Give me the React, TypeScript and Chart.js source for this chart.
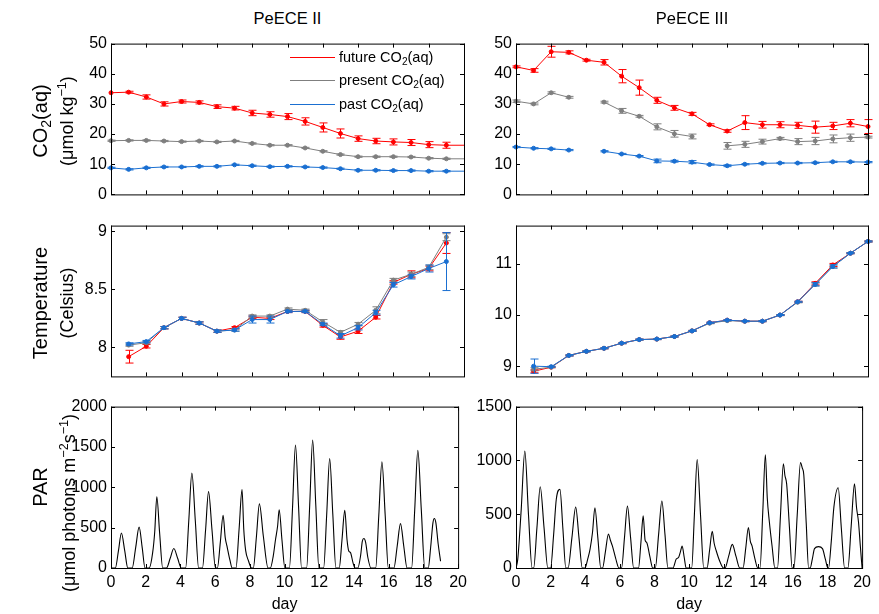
import React, { useEffect, useRef } from 'react';
import { Chart, registerables } from 'chart.js';

Chart.register(...registerables);

const FONT_FAMILY = '"Liberation Sans", Arial, Helvetica, sans-serif';
const RED = '#ff0000';
const GRAY = '#7f7f7f';
const BLUE = '#1a6fd1';

// ---------------- DATA ----------------
const dayTicks = [0, 2, 4, 6, 8, 10, 12, 14, 16, 18, 20];

// PeECE II — CO2(aq)
const co2DaysII = [0, 1, 2, 3, 4, 5, 6, 7, 8, 9, 10, 11, 12, 13, 14, 15, 16, 17, 18, 19, 20];
const futureCO2II = [33.7, 33.9, 32.3, 30.0, 30.8, 30.5, 29.1, 28.6, 27.0, 26.5, 25.8, 24.2, 22.2, 20.2, 18.5, 17.7, 17.4, 17.2, 16.5, 16.3, 16.3];
const futureCO2IIErr = [0, 0.3, 0.7, 0.7, 0.5, 0.5, 0.6, 0.6, 0.9, 0.9, 1.0, 1.2, 1.5, 1.5, 0.9, 0.9, 1.0, 1.0, 1.0, 1.0, 0];
const presentCO2II = [17.8, 17.9, 17.9, 17.7, 17.5, 17.7, 17.4, 17.7, 16.9, 16.3, 16.3, 15.4, 14.3, 13.2, 12.5, 12.5, 12.5, 12.4, 12.0, 11.8, 11.8];
const presentCO2IIErr = [0.2, 0.2, 0.2, 0.2, 0.2, 0.2, 0.2, 0.2, 0.2, 0.2, 0.2, 0.2, 0.2, 0.2, 0.2, 0.2, 0.2, 0.2, 0.2, 0.2, 0];
const pastCO2II = [8.8, 8.3, 8.8, 9.1, 9.1, 9.3, 9.3, 9.8, 9.5, 9.2, 9.3, 9.1, 8.9, 8.5, 8.0, 8.0, 7.9, 7.9, 7.7, 7.7, 7.7];
const pastCO2IIErr = [0.2, 0.2, 0.2, 0.2, 0.2, 0.2, 0.2, 0.2, 0.2, 0.2, 0.2, 0.2, 0.2, 0.2, 0.2, 0.2, 0.2, 0.2, 0.2, 0.2, 0];

// PeECE III — CO2(aq)
const co2DaysIII = [0, 1, 2, 3, 4, 5, 6, 7, 8, 9, 10, 11, 12, 13, 14, 15, 16, 17, 18, 19, 20];
const futureCO2III = [42.3, 41.1, 47.3, 47.1, 44.5, 43.8, 39.2, 35.4, 31.2, 28.7, 26.7, 23.1, 21.0, 23.8, 23.1, 23.1, 22.9, 22.3, 22.7, 23.6, 22.5];
const futureCO2IIIErr = [0.3, 0.6, 1.8, 0.5, 0.3, 0.9, 2.2, 2.5, 1.0, 0.8, 0.5, 0.3, 0.4, 2.3, 1.1, 1.0, 1.0, 2.0, 1.2, 1.2, 2.3];
const presentCO2III = [30.9, 30.0, 33.7, 32.2, null, 30.6, 27.7, 25.9, 22.4, 20.1, 19.2, null, 16.1, 16.6, 17.5, 18.5, 17.5, 17.7, 18.4, 18.8, 19.0];
const presentCO2IIIErr = [0.4, 0.3, 0.3, 0.3, 0, 0.3, 0.8, 0.3, 1.0, 1.1, 0.8, 0, 1.1, 1.0, 0.8, 0.4, 1.0, 1.2, 1.3, 1.2, 0.3];
const pastCO2III = [15.7, 15.3, 15.1, 14.7, null, 14.3, 13.4, 12.7, 11.1, 11.0, 10.7, 9.9, 9.5, 10.0, 10.3, 10.4, 10.4, 10.5, 10.8, 10.8, 10.7];
const pastCO2IIIErr = [0.2, 0.2, 0.2, 0.2, 0, 0.2, 0.2, 0.2, 0.6, 0.3, 0.5, 0.2, 0.3, 0.2, 0.2, 0.2, 0.2, 0.2, 0.2, 0.2, 0.2];

// PeECE II — Temperature
const tempDaysII = [1, 2, 3, 4, 5, 6, 7, 8, 9, 10, 11, 12, 13, 14, 15, 16, 17, 18, 19];
const futureTempII = [7.92, 8.01, 8.17, 8.25, 8.21, 8.14, 8.17, 8.26, 8.25, 8.31, 8.31, 8.19, 8.09, 8.14, 8.26, 8.56, 8.63, 8.68, 8.90];
const futureTempIIErr = [0.055, 0.015, 0.01, 0.01, 0.01, 0.01, 0.01, 0.01, 0.01, 0.01, 0.01, 0.015, 0.02, 0.02, 0.015, 0.015, 0.03, 0.02, 0.09];
const presentTempII = [8.02, 8.04, 8.17, 8.25, 8.21, 8.14, 8.15, 8.27, 8.27, 8.33, 8.32, 8.22, 8.13, 8.20, 8.32, 8.58, 8.63, 8.69, 8.95];
const presentTempIIErr = [0.01, 0.01, 0.01, 0.01, 0.01, 0.01, 0.01, 0.01, 0.01, 0.01, 0.01, 0.02, 0.015, 0.015, 0.03, 0.015, 0.02, 0.02, 0.03];
const pastTempII = [8.03, 8.05, 8.17, 8.25, 8.21, 8.14, 8.15, 8.24, 8.24, 8.31, 8.31, 8.20, 8.10, 8.17, 8.30, 8.54, 8.61, 8.68, 8.74];
const pastTempIIErr = [0.01, 0.01, 0.01, 0.01, 0.01, 0.01, 0.01, 0.03, 0.03, 0.01, 0.01, 0.01, 0.02, 0.02, 0.02, 0.02, 0.02, 0.03, 0.25];

// PeECE III — Temperature
const tempDaysIII = [1, 2, 3, 4, 5, 6, 7, 8, 9, 10, 11, 12, 13, 14, 15, 16, 17, 18, 19, 20];
const futureTempIII = [8.90, 8.98, 9.21, 9.29, 9.35, 9.45, 9.52, 9.53, 9.58, 9.69, 9.85, 9.90, 9.88, 9.88, 10.00, 10.26, 10.62, 10.98, 11.21, 11.44];
const futureTempIIIErr = [0.03, 0.01, 0.01, 0.01, 0.01, 0.01, 0.01, 0.01, 0.01, 0.01, 0.01, 0.01, 0.01, 0.01, 0.01, 0.01, 0.03, 0.03, 0.01, 0.01];
const presentTempIII = [8.94, 8.98, 9.21, 9.29, 9.35, 9.45, 9.52, 9.53, 9.58, 9.69, 9.84, 9.89, 9.88, 9.88, 10.00, 10.25, 10.60, 10.95, 11.21, 11.44];
const presentTempIIIErr = [0.03, 0.01, 0.01, 0.01, 0.01, 0.01, 0.01, 0.01, 0.01, 0.01, 0.01, 0.01, 0.01, 0.01, 0.01, 0.01, 0.03, 0.03, 0.01, 0.01];
const pastTempIII = [9.00, 8.99, 9.21, 9.29, 9.35, 9.45, 9.52, 9.53, 9.58, 9.69, 9.85, 9.90, 9.88, 9.88, 10.00, 10.26, 10.60, 10.95, 11.21, 11.44];
const pastTempIIIErr = [0.14, 0.01, 0.01, 0.01, 0.01, 0.01, 0.01, 0.01, 0.01, 0.01, 0.01, 0.01, 0.01, 0.01, 0.01, 0.01, 0.03, 0.03, 0.01, 0.01];

// PeECE II — PAR (day, µmol photons m-2 s-1)
const parDaysII = [
  0, 0.25, 0.43, 0.60, 0.79, 0.97,
  1.22, 1.42, 1.62, 1.80, 1.96,
  2.20, 2.40, 2.52, 2.64, 2.80, 2.98,
  3.20, 3.41, 3.62, 3.84, 4.05,
  4.30, 4.48, 4.66, 4.86, 5.05,
  5.27, 5.45, 5.62, 5.82, 6.02,
  6.13, 6.30, 6.46, 6.58, 6.70, 6.85, 6.98,
  7.20, 7.38, 7.55, 7.65, 7.76, 7.92, 8.10,
  8.20, 8.38, 8.55, 8.78, 9.05,
  9.18, 9.35, 9.48, 9.60, 9.69, 9.85, 10.02,
  10.28, 10.46, 10.63, 10.81, 10.98,
  11.27, 11.45, 11.62, 11.80, 11.98,
  12.25, 12.43, 12.60, 12.78, 12.96,
  13.15, 13.31, 13.47, 13.60, 13.70, 13.80, 13.95, 14.06,
  14.22, 14.38, 14.48, 14.57, 14.67, 14.80, 14.98,
  15.25, 15.43, 15.61, 15.80, 15.98,
  16.30, 16.49, 16.68, 16.87, 17.06,
  17.32, 17.50, 17.68, 17.88, 18.08,
  18.28, 18.42, 18.55, 18.63, 18.72, 18.85, 18.99,
];
const parII = [
  0, 0, 215, 433, 215, 0,
  0, 250, 506, 250, 0,
  0, 190, 450, 883, 440, 0,
  0, 120, 241, 120, 0,
  0, 580, 1176, 580, 0,
  0, 470, 947, 470, 0,
  0, 320, 654, 380, 253, 100, 0,
  0, 480, 971, 480, 215, 90, 0,
  0, 390, 795, 390, 0,
  0, 150, 353, 520, 722, 350, 0,
  0, 750, 1525, 750, 0,
  0, 780, 1585, 780, 0,
  0, 670, 1356, 670, 0,
  0, 350, 714, 350, 210, 190, 60, 0,
  0, 150, 330, 365, 320, 130, 0,
  0, 650, 1316, 650, 0,
  0, 270, 550, 270, 0,
  0, 720, 1457, 720, 0,
  0, 260, 560, 614, 560, 300, 84,
];

// PeECE III — PAR
const parDaysIII = [
  0, 0.10, 0.30, 0.51, 0.72, 0.93,
  1.02, 1.21, 1.40, 1.62, 1.84,
  2.00, 2.17, 2.33, 2.54, 2.71, 2.88,
  3.01, 3.23, 3.45, 3.64, 3.83,
  3.99, 4.14, 4.28, 4.42, 4.56, 4.73, 4.90,
  5.00, 5.17, 5.34, 5.45, 5.57, 5.76, 5.95,
  6.10, 6.27, 6.44, 6.62, 6.80,
  7.08, 7.22, 7.35, 7.46, 7.56, 7.73, 7.90,
  8.05, 8.24, 8.43, 8.61, 8.78,
  9.07, 9.26, 9.40, 9.50, 9.60, 9.72, 9.83,
  10.15, 10.31, 10.47, 10.66, 10.85,
  11.04, 11.19, 11.34, 11.45, 11.57, 11.78, 11.99,
  12.08, 12.29, 12.50, 12.71, 12.93,
  13.12, 13.28, 13.43, 13.54, 13.64, 13.80, 13.97,
  14.10, 14.26, 14.41, 14.52, 14.64, 14.80, 14.96,
  15.11, 15.28, 15.45, 15.54, 15.64, 15.80, 15.96,
  16.06, 16.25, 16.44, 16.54, 16.63, 16.77, 16.91,
  17.00, 17.12, 17.25, 17.48, 17.71, 17.88, 18.02,
  18.06, 18.22, 18.37, 18.62, 18.80, 18.99,
  19.18, 19.37, 19.56, 19.68, 19.79, 19.90, 20.0,
];
const parIII = [
  0, 80, 540, 1086, 500, 0,
  0, 375, 755, 375, 0,
  0, 300, 641, 731, 365, 0,
  0, 280, 566, 280, 0,
  0, 80, 175, 330, 560, 280, 0,
  0, 155, 316, 260, 205, 90, 0,
  0, 285, 575, 285, 0,
  0, 240, 484, 260, 235, 110, 0,
  0, 310, 623, 310, 0,
  0, 84, 100, 150, 205, 100, 0,
  0, 500, 1008, 500, 0,
  0, 170, 340, 230, 160, 60, 0,
  0, 110, 220, 110, 0,
  0, 190, 376, 250, 205, 90, 0,
  0, 520, 1053, 650, 430, 200, 0,
  0, 480, 969, 860, 782, 380, 0,
  0, 490, 981, 930, 867, 420, 0,
  0, 80, 180, 199, 180, 80, 0,
  0, 250, 566, 746, 370, 0,
  0, 390, 782, 560, 430, 200, 0,
];

const co2Ticks = [0, 10, 20, 30, 40, 50];
const tempTicksII = [8, 8.5, 9];
const tempTicksIII = [9, 10, 11];
const parTicksII = [0, 500, 1000, 1500, 2000];
const parTicksIII = [0, 500, 1000, 1500];

// ---------------- PLUGINS ----------------
const frameTicksPlugin = {
  id: 'frameTicks',
  afterDraw(chart: any) {
    const { ctx, chartArea: a } = chart;
    const xs = chart.scales.x;
    const ys = chart.scales.y;
    const tl = 4;
    ctx.save();
    ctx.strokeStyle = '#000';
    ctx.lineWidth = 1;
    ctx.beginPath();
    xs.ticks.forEach((t: any) => {
      const px = Math.round(xs.getPixelForValue(t.value)) + 0.5;
      ctx.moveTo(px, a.bottom);
      ctx.lineTo(px, a.bottom - tl);
      ctx.moveTo(px, a.top);
      ctx.lineTo(px, a.top + tl);
    });
    ys.ticks.forEach((t: any) => {
      const py = Math.round(ys.getPixelForValue(t.value)) + 0.5;
      ctx.moveTo(a.left, py);
      ctx.lineTo(a.left + tl, py);
      ctx.moveTo(a.right, py);
      ctx.lineTo(a.right - tl, py);
    });
    ctx.stroke();
    ctx.strokeRect(a.left + 0.5, a.top + 0.5, a.right - a.left, a.bottom - a.top);
    ctx.restore();
  },
};

const errorBarsPlugin = {
  id: 'errorBars',
  afterDatasetDraw(chart: any, args: any) {
    const ds = chart.data.datasets[args.index];
    if (!ds.errors) return;
    const ctx = chart.ctx;
    const ys = chart.scales.y;
    const cap = 4;
    ctx.save();
    ctx.strokeStyle = ds.borderColor;
    ctx.lineWidth = 1;
    ctx.beginPath();
    args.meta.data.forEach((pt: any, j: number) => {
      const v = ds.data[j].y;
      const e = ds.errors[j];
      if (v == null || !e) return;
      const x = Math.round(pt.x) + 0.5;
      const yLo = ys.getPixelForValue(v - e);
      const yHi = ys.getPixelForValue(v + e);
      ctx.moveTo(x, yLo);
      ctx.lineTo(x, yHi);
      ctx.moveTo(x - cap, yLo);
      ctx.lineTo(x + cap, yLo);
      ctx.moveTo(x - cap, yHi);
      ctx.lineTo(x + cap, yHi);
    });
    ctx.stroke();
    ctx.restore();
  },
};

// ---------------- HELPERS ----------------
const PAGE_H = 614;
const Y_W = 60;
const PAD_T = 8;
const PAD_R = 8;
const TICK_FONT_SIZE = 16;

function toPoints(days: number[], values: (number | null)[]) {
  return days.map((d, i) => ({ x: d, y: values[i] }));
}

function series(label: string, color: string, days: number[], values: (number | null)[], errors: number[], order: number, radii?: number[]) {
  return {
    label,
    data: toPoints(days, values),
    errors,
    borderColor: color,
    backgroundColor: color,
    borderWidth: 1,
    pointRadius: radii || 2,
    pointBorderWidth: 1,
    pointBorderColor: color,
    pointBackgroundColor: color,
    spanGaps: false,
    tension: 0,
    order,
    clip: 6,
  };
}

function parSeries(days: number[], values: number[]) {
  return {
    label: 'PAR',
    data: toPoints(days, values),
    borderColor: '#000',
    borderWidth: 1.1,
    pointRadius: 0,
    cubicInterpolationMode: 'monotone',
    fill: false,
  };
}

interface PanelSpec {
  left: number;
  right: number;
  top: number;
  bottom: number;
  yMin: number;
  yMax: number;
  yTicks: number[];
  showXLabels: boolean;
  datasets: any[];
}

function Panel({ spec }: { spec: PanelSpec }) {
  const ref = useRef<HTMLCanvasElement>(null);
  const xH = spec.showXLabels ? PAGE_H - spec.bottom : 4;
  const w = Y_W + (spec.right - spec.left) + PAD_R;
  const h = PAD_T + (spec.bottom - spec.top) + xH;

  useEffect(() => {
    const font = { family: FONT_FAMILY, size: TICK_FONT_SIZE };
    const chart = new Chart(ref.current as HTMLCanvasElement, {
      type: 'line',
      data: { datasets: spec.datasets },
      options: {
        responsive: false,
        animation: false,
        devicePixelRatio: 1,
        layout: { padding: { top: PAD_T, right: PAD_R, left: 0, bottom: 0 } },
        plugins: {
          legend: { display: false },
          tooltip: { enabled: false },
          title: { display: false },
        },
        scales: {
          x: {
            type: 'linear',
            min: 0,
            max: 20,
            afterBuildTicks: (s: any) => {
              s.ticks = dayTicks.map((v) => ({ value: v }));
            },
            afterFit: (s: any) => {
              s.height = xH;
            },
            grid: { display: false, drawTicks: false },
            border: { display: false },
            ticks: {
              autoSkip: false,
              maxRotation: 0,
              padding: 5,
              font,
              color: '#000',
              callback: (v: any) => (spec.showXLabels ? String(v) : ''),
            },
            title: {
              display: spec.showXLabels,
              text: 'day',
              font,
              color: '#000',
              padding: { top: 0, bottom: 0 },
            },
          },
          y: {
            type: 'linear',
            min: spec.yMin,
            max: spec.yMax,
            afterBuildTicks: (s: any) => {
              s.ticks = spec.yTicks.map((v) => ({ value: v }));
            },
            afterFit: (s: any) => {
              s.width = Y_W;
            },
            grid: { display: false, drawTicks: false },
            border: { display: false },
            ticks: {
              padding: 4,
              font,
              color: '#000',
              callback: (v: any) => String(v),
            },
          },
        },
      } as any,
      plugins: [frameTicksPlugin, errorBarsPlugin],
    });
    return () => chart.destroy();
  }, []);

  return (
    <canvas
      ref={ref}
      width={w}
      height={h}
      style={{ position: 'absolute', left: spec.left - Y_W, top: spec.top - PAD_T, width: w, height: h }}
    />
  );
}

function VText({ x, y, size, children }: { x: number; y: number; size: number; children: any }) {
  return (
    <div
      style={{
        position: 'absolute',
        left: x,
        top: y,
        transform: 'translate(-50%, -50%) rotate(-90deg)',
        fontSize: size,
        fontFamily: FONT_FAMILY,
        whiteSpace: 'nowrap',
        lineHeight: 1,
        color: '#000',
      }}
    >
      {children}
    </div>
  );
}

const subStyle: React.CSSProperties = { fontSize: '70%', verticalAlign: '-0.25em', lineHeight: 0 };
const supStyle: React.CSSProperties = { fontSize: '70%', verticalAlign: '0.55em', lineHeight: 0 };

function LegendRow({ y, color, label }: { y: number; color: string; label: string }) {
  return (
    <div
      style={{
        position: 'absolute',
        left: 290,
        top: y - 9,
        height: 18,
        display: 'flex',
        alignItems: 'center',
        fontFamily: FONT_FAMILY,
        fontSize: 14.5,
        whiteSpace: 'nowrap',
      }}
    >
      <span style={{ display: 'inline-block', width: 45, height: 1, background: color, marginRight: 4 }} />
      <span>
        {label} CO<span style={subStyle}>2</span>(aq)
      </span>
    </div>
  );
}

const LEFT_L = 111;
const LEFT_R = 464;
const RIGHT_L = 516;
const RIGHT_R = 868;
const ROWS = [
  [38, 204],
  [220, 386],
  [401, 568],
];

export default function App() {
  const panels: PanelSpec[] = [
    {
      left: LEFT_L, right: LEFT_R, top: ROWS[0][0], bottom: ROWS[0][1],
      yMin: 0, yMax: 50, yTicks: co2Ticks, showXLabels: false,
      datasets: [
        series('past CO2(aq)', BLUE, co2DaysII, pastCO2II, pastCO2IIErr, 2, co2DaysII.map((d) => (d === 20 ? 0 : 2))),
        series('present CO2(aq)', GRAY, co2DaysII, presentCO2II, presentCO2IIErr, 1, co2DaysII.map((d) => (d === 20 ? 0 : 2))),
        series('future CO2(aq)', RED, co2DaysII, futureCO2II, futureCO2IIErr, 0, co2DaysII.map((d) => (d === 20 ? 0 : 2))),
      ],
    },
    {
      left: RIGHT_L, right: RIGHT_R, top: ROWS[0][0], bottom: ROWS[0][1],
      yMin: 0, yMax: 50, yTicks: co2Ticks, showXLabels: false,
      datasets: [
        series('past CO2(aq)', BLUE, co2DaysIII, pastCO2III, pastCO2IIIErr, 2),
        series('present CO2(aq)', GRAY, co2DaysIII, presentCO2III, presentCO2IIIErr, 1),
        series('future CO2(aq)', RED, co2DaysIII, futureCO2III, futureCO2IIIErr, 0),
      ],
    },
    {
      left: LEFT_L, right: LEFT_R, top: ROWS[1][0], bottom: ROWS[1][1],
      yMin: 7.75, yMax: 9.05, yTicks: tempTicksII, showXLabels: false,
      datasets: [
        series('future', RED, tempDaysII, futureTempII, futureTempIIErr, 2),
        series('present', GRAY, tempDaysII, presentTempII, presentTempIIErr, 1),
        series('past', BLUE, tempDaysII, pastTempII, pastTempIIErr, 0),
      ],
    },
    {
      left: RIGHT_L, right: RIGHT_R, top: ROWS[1][0], bottom: ROWS[1][1],
      yMin: 8.8, yMax: 11.75, yTicks: tempTicksIII, showXLabels: false,
      datasets: [
        series('future', RED, tempDaysIII, futureTempIII, futureTempIIIErr, 2),
        series('present', GRAY, tempDaysIII, presentTempIII, presentTempIIIErr, 1),
        series('past', BLUE, tempDaysIII, pastTempIII, pastTempIIIErr, 0),
      ],
    },
    {
      left: LEFT_L, right: LEFT_R, top: ROWS[2][0], bottom: ROWS[2][1],
      yMin: 0, yMax: 2000, yTicks: parTicksII, showXLabels: true,
      datasets: [parSeries(parDaysII, parII)],
    },
    {
      left: RIGHT_L, right: RIGHT_R, top: ROWS[2][0], bottom: ROWS[2][1],
      yMin: 0, yMax: 1500, yTicks: parTicksIII, showXLabels: true,
      datasets: [parSeries(parDaysIII, parIII)],
    },
  ];

  const titleStyle = (cx: number): React.CSSProperties => ({
    position: 'absolute',
    left: cx,
    top: 18,
    transform: 'translate(-50%, -50%)',
    fontFamily: FONT_FAMILY,
    fontSize: 16.5,
    whiteSpace: 'nowrap',
  });

  return (
    <div style={{ position: 'absolute', left: 0, top: 0, width: 879, height: 614, background: '#fff', overflow: 'hidden' }}>
      {panels.map((p, i) => (
        <Panel key={i} spec={p} />
      ))}
      <div style={titleStyle((LEFT_L + LEFT_R) / 2)}>PeECE II</div>
      <div style={titleStyle((RIGHT_L + RIGHT_R) / 2)}>PeECE III</div>

      <LegendRow y={57} color={RED} label="future" />
      <LegendRow y={80} color={GRAY} label="present" />
      <LegendRow y={104} color={BLUE} label="past" />

      <VText x={40} y={121} size={20}>
        CO<span style={subStyle}>2</span>(aq)
      </VText>
      <VText x={67} y={121} size={18}>
        (μmol kg<span style={supStyle}>−1</span>)
      </VText>
      <VText x={40} y={303} size={20}>
        Temperature
      </VText>
      <VText x={67} y={303} size={18}>
        (Celsius)
      </VText>
      <VText x={40} y={487} size={20}>
        PAR
      </VText>
      <VText x={69} y={503} size={18}>
        (μmol photons m<span style={supStyle}>−2</span>s<span style={supStyle}>−1</span>)
      </VText>
    </div>
  );
}
